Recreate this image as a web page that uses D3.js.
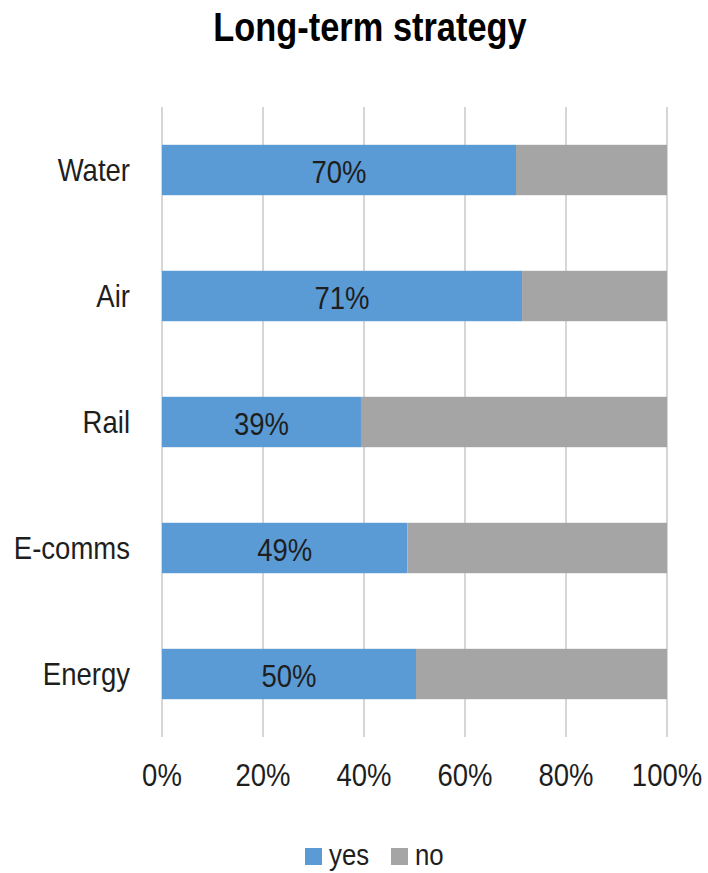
<!DOCTYPE html>
<html>
<head>
<meta charset="utf-8">
<script src="https://cdn.jsdelivr.net/npm/d3@7"></script>
<style>
  html, body { margin: 0; padding: 0; background: #fff; }
  svg { display: block; font-family: "Liberation Sans", Arial, sans-serif; }
</style>
</head>
<body>
<svg id="chart" width="708" height="873"></svg>
<script>
const categories = ["Water", "Air", "Rail", "E-comms", "Energy"];
const yesValues = [70.1, 71.3, 39.4, 48.6, 50.3];
const noValues = [29.9, 28.7, 60.6, 51.4, 49.7];
const tickValues = [0, 20, 40, 60, 80, 100];
const seriesNames = ["yes", "no"];
const seriesColors = ["#5B9BD5", "#A5A5A5"];
const title = "Long-term strategy";

const svg = d3.select("#chart");
const sx = 0.86; // horizontal condensation of text
const textColor = "#1e1e1e";
const fs = 32;

const x = d3.scaleLinear().domain([0, 100]).range([162, 667]);
const y = d3.scaleBand().domain(categories).range([107, 737]).paddingInner(0.6).paddingOuter(0.3);

// gridlines
svg.append("g").selectAll("line").data(tickValues).join("line")
  .attr("x1", d => x(d)).attr("x2", d => x(d))
  .attr("y1", 107).attr("y2", 737)
  .attr("stroke", "#d6d6d6").attr("stroke-width", 2);

// stacked bars
const rows = categories.map((c, i) => ({ c, yes: yesValues[i], no: noValues[i] }));
const stack = d3.stack().keys(seriesNames)(rows);
const color = d3.scaleOrdinal().domain(seriesNames).range(seriesColors);

svg.append("g").selectAll("g").data(stack).join("g")
  .attr("fill", d => color(d.key))
  .selectAll("rect").data(d => d).join("rect")
  .attr("x", d => x(d[0]))
  .attr("width", d => x(d[1]) - x(d[0]))
  .attr("y", d => y(d.data.c))
  .attr("height", y.bandwidth());

// value labels on yes segment
svg.append("g").selectAll("text").data(rows).join("text")
  .text(d => Math.round(d.yes) + "%")
  .attr("text-anchor", "middle")
  .attr("font-size", fs)
  .attr("fill", textColor)
  .each(function(d) {
    d3.select(this).attr("transform",
      `translate(${(x(0) + x(d.yes)) / 2},${y(d.c) + y.bandwidth() / 2 + 13}) scale(${sx},1)`);
  });

// category labels
svg.append("g").selectAll("text").data(categories).join("text")
  .text(d => d)
  .attr("text-anchor", "end")
  .attr("font-size", fs)
  .attr("fill", textColor)
  .each(function(d) {
    d3.select(this).attr("transform",
      `translate(130,${y(d) + y.bandwidth() / 2 + 11}) scale(${sx},1)`);
  });

// x axis tick labels
svg.append("g").selectAll("text").data(tickValues).join("text")
  .text(d => d + "%")
  .attr("text-anchor", "middle")
  .attr("font-size", fs)
  .attr("fill", textColor)
  .each(function(d) {
    d3.select(this).attr("transform", `translate(${x(d)},786) scale(${sx},1)`);
  });

// title
svg.append("text")
  .text(title)
  .attr("text-anchor", "middle")
  .attr("font-size", 40)
  .attr("font-weight", "bold")
  .attr("fill", "#000")
  .attr("transform", `translate(370,41) scale(${sx},1)`);

// legend
const legendItems = [
  { name: seriesNames[0], color: seriesColors[0], x: 305 },
  { name: seriesNames[1], color: seriesColors[1], x: 391 }
];
const lg = svg.append("g").selectAll("g").data(legendItems).join("g");
lg.append("rect")
  .attr("x", d => d.x).attr("y", 848)
  .attr("width", 17).attr("height", 17)
  .attr("fill", d => d.color);
lg.append("text")
  .text(d => d.name)
  .attr("font-size", 30)
  .attr("fill", textColor)
  .each(function(d) {
    d3.select(this).attr("transform", `translate(${d.x + 24},865) scale(${sx},1)`);
  });
</script>
</body>
</html>
